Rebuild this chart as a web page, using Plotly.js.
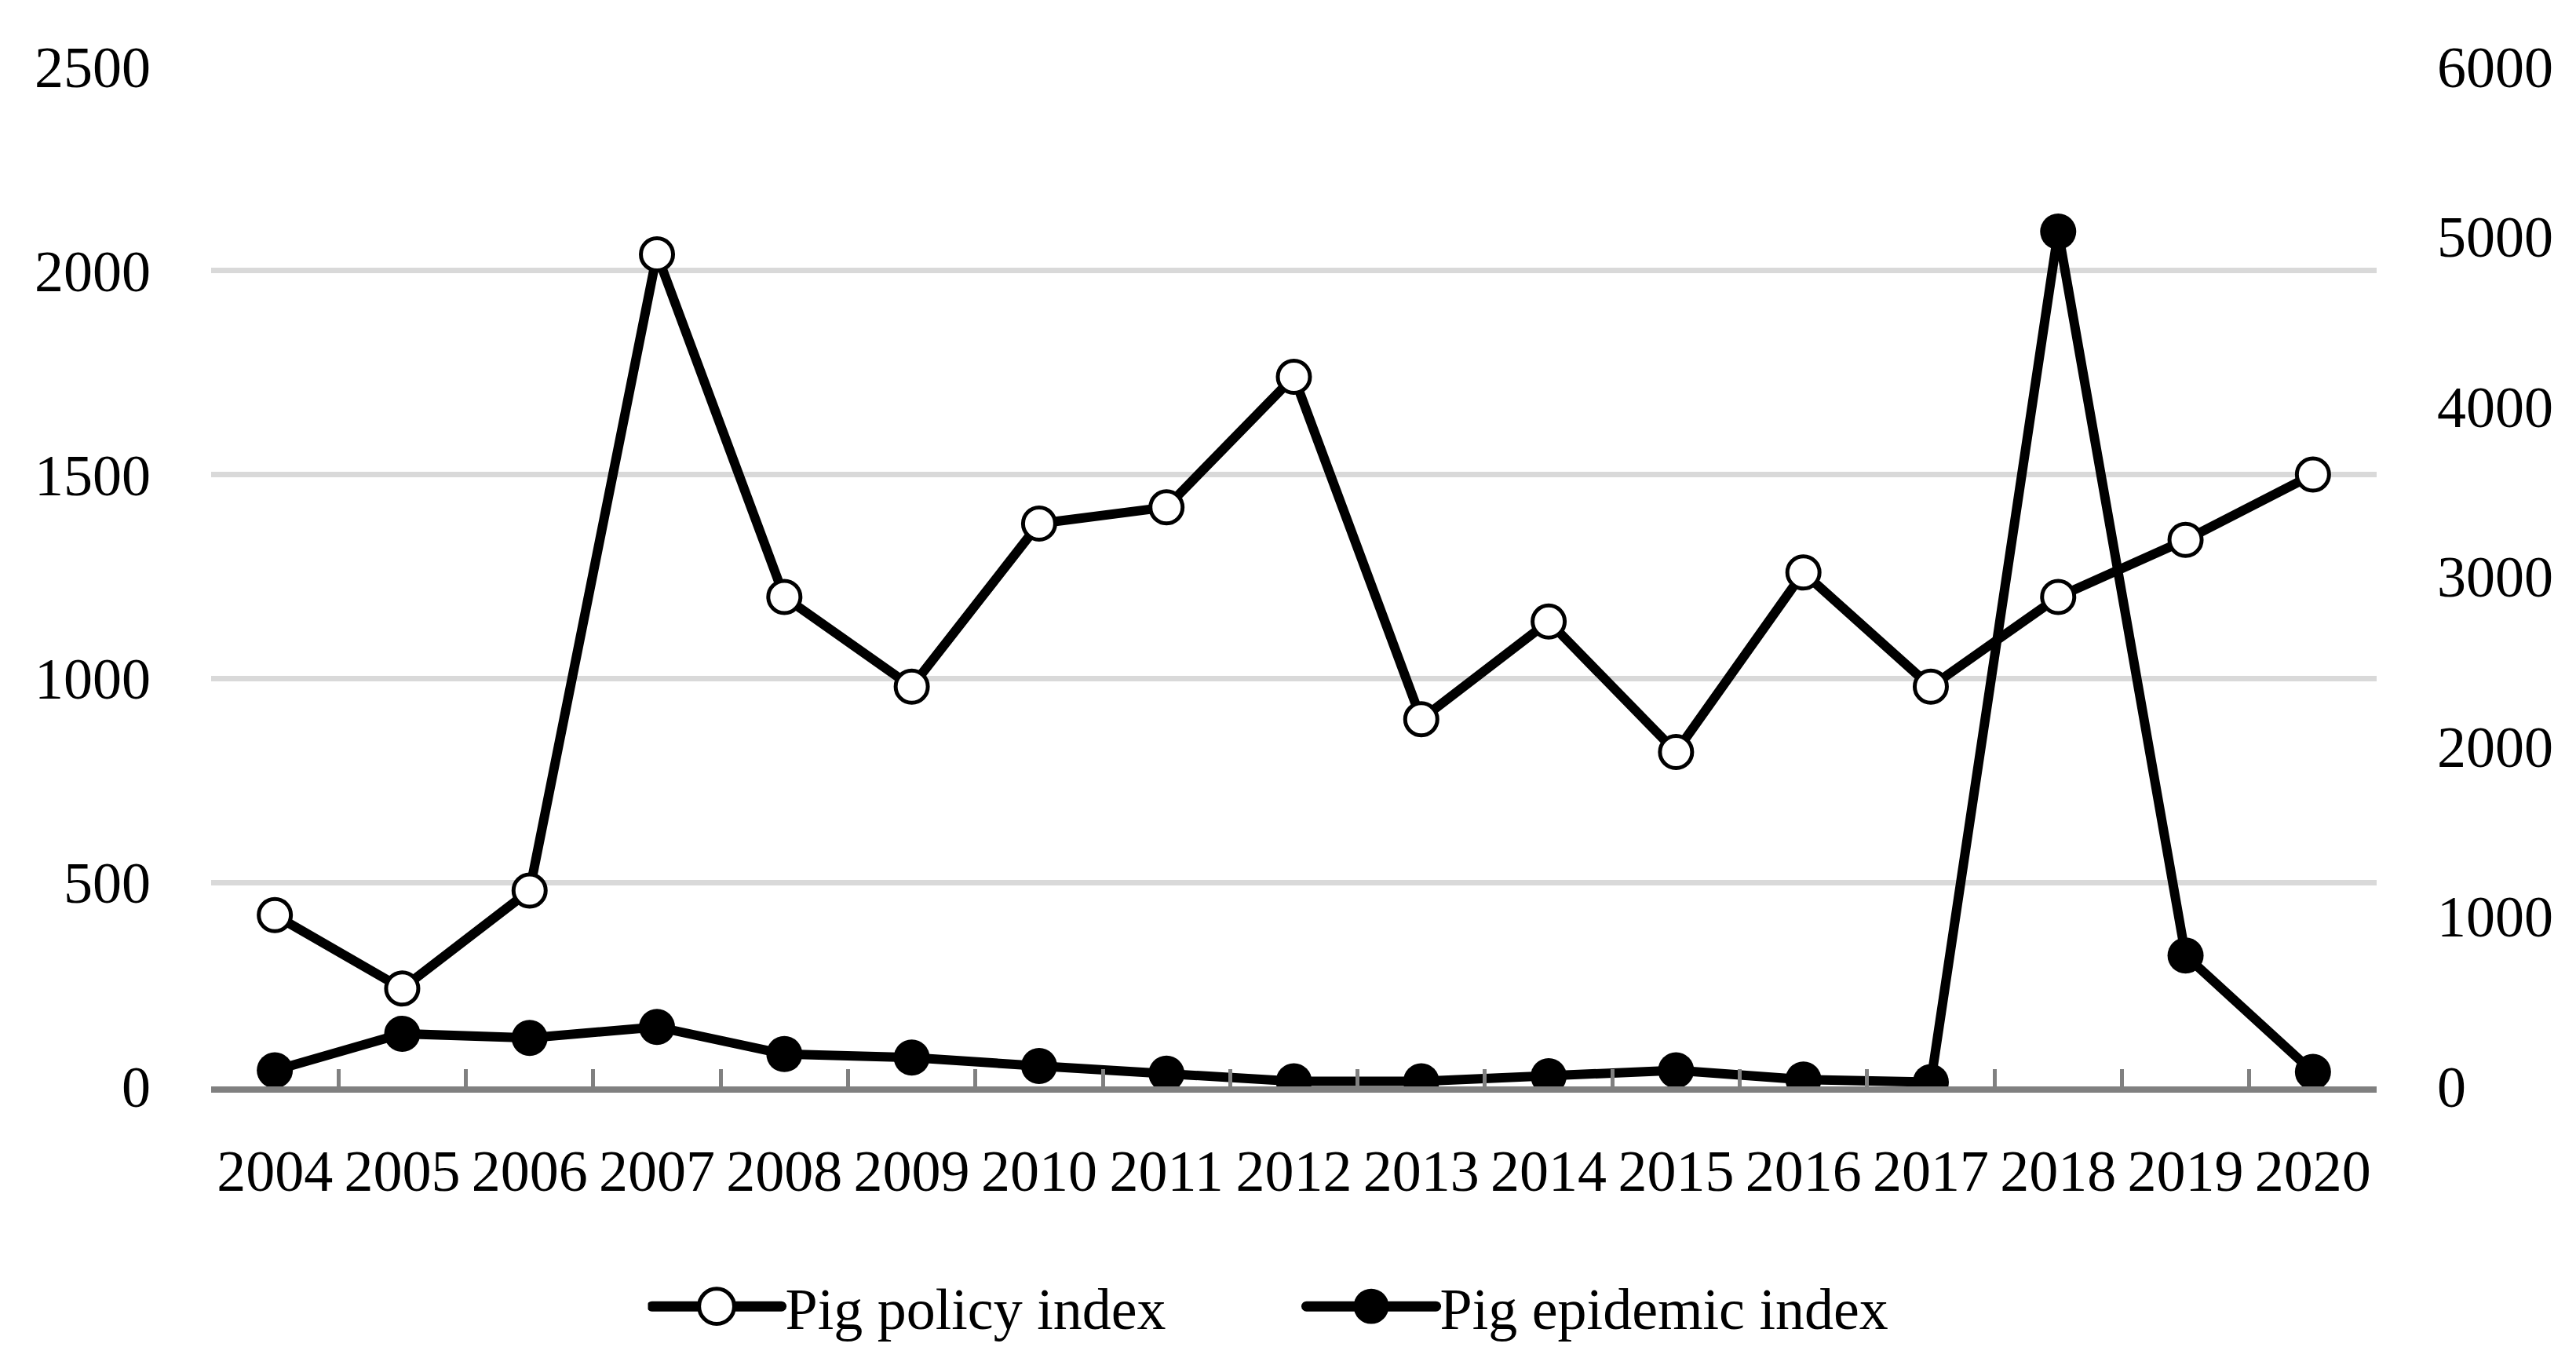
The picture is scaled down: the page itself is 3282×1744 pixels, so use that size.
<!DOCTYPE html>
<html>
<head>
<meta charset="utf-8">
<script src="https://cdn.plot.ly/plotly-3.0.1.min.js"></script>
<style>
  html, body { margin: 0; padding: 0; background: #ffffff; }
  #chart { width: 3282px; height: 1744px; }
</style>
</head>
<body>
<div id="chart"></div>
<script>
const years = ["2004","2005","2006","2007","2008","2009","2010","2011","2012","2013","2014","2015","2016","2017","2018","2019","2020"];
const policyIndex = [420, 240, 480, 2040, 1200, 980, 1380, 1420, 1740, 900, 1140, 820, 1260, 980, 1200, 1340, 1500];
const epidemicIndex = [95, 310, 285, 350, 190, 170, 120, 75, 30, 30, 60, 95, 40, 25, 5030, 770, 85];
const leftTicks = [0, 500, 1000, 1500, 2000, 2500];
const rightTicks = [0, 1000, 2000, 3000, 4000, 5000, 6000];

const FONT = "Liberation Serif, 'Times New Roman', serif";

const traces = [
  {
    type: "scatter", mode: "lines+markers", name: "Pig policy index",
    x: years, y: policyIndex, yaxis: "y",
    line: { color: "#000000", width: 12 },
    marker: { symbol: "circle", size: 41, color: "#ffffff", line: { color: "#000000", width: 5 } }
  },
  {
    type: "scatter", mode: "lines+markers", name: "Pig epidemic index",
    x: years, y: epidemicIndex, yaxis: "y2",
    line: { color: "#000000", width: 12 },
    marker: { symbol: "circle", size: 46, color: "#000000", line: { color: "#000000", width: 0 } }
  }
];

const layout = {
  width: 3282, height: 1744,
  margin: { l: 269, r: 254, t: 85, b: 360 },
  paper_bgcolor: "#ffffff", plot_bgcolor: "#ffffff",
  font: { family: FONT, size: 74, color: "#000000" },
  showlegend: true,
  legend: {
    orientation: "h", x: 0.504, xanchor: "center", y: -0.216, yanchor: "middle",
    font: { family: FONT, size: 74, color: "#000000" },
    itemwidth: 165, traceorder: "normal", bgcolor: "rgba(0,0,0,0)",
    entrywidth: 654, entrywidthmode: "pixels"
  },
  xaxis: {
    type: "category", categoryorder: "array", categoryarray: years,
    range: [-0.5, 16.5],
    showgrid: false, zeroline: false,
    showline: true, linecolor: "#808080", linewidth: 8,
    ticks: "inside", tickson: "boundaries", ticklen: 22, tickwidth: 5, tickcolor: "#808080",
    tickfont: { family: FONT, size: 74, color: "#000000" },
    ticklabelstandoff: 36
  },
  yaxis: {
    range: [0, 2500], tickmode: "array", tickvals: leftTicks, ticktext: leftTicks.map(String),
    showgrid: true, gridcolor: "#d9d9d9", gridwidth: 7,
    zeroline: false, showline: false, ticks: "",
    tickfont: { family: FONT, size: 74, color: "#000000" },
    ticklabelstandoff: 76
  },
  yaxis2: {
    overlaying: "y", side: "right",
    range: [0, 6000], tickmode: "array", tickvals: rightTicks, ticktext: rightTicks.map(String),
    showgrid: false, zeroline: false, showline: false, ticks: "",
    tickfont: { family: FONT, size: 74, color: "#000000" },
    ticklabelstandoff: 76
  }
};

Plotly.newPlot("chart", traces, layout, { staticPlot: true, displayModeBar: false }).then(function (gd) {
  // enlarge legend symbols to match the plotted markers
  const pts = gd.querySelectorAll(".legend .legendpoints path.scatterpts");
  pts.forEach(function (p, i) {
    const t = p.getAttribute("transform") || "";
    p.setAttribute("transform", t + " scale(2.8)");
    if (i === 0) { p.style.strokeWidth = "1.8px"; }
  });
  const lines = gd.querySelectorAll(".legend .legendlines path");
  lines.forEach(function (l) { l.style.strokeWidth = "13px"; l.style.strokeLinecap = "round"; });
});
</script>
</body>
</html>
